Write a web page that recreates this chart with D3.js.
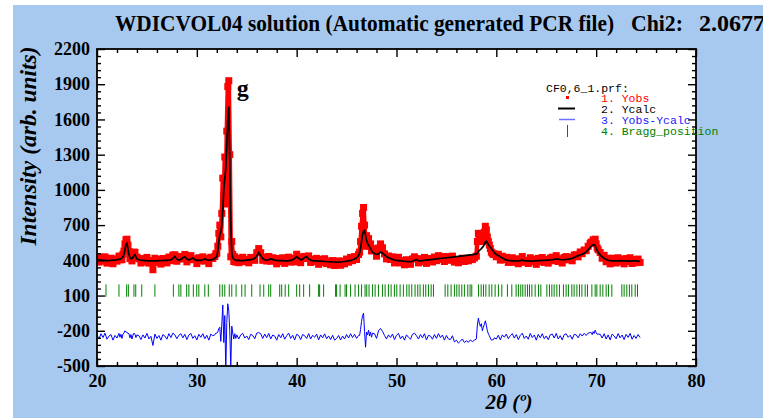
<!DOCTYPE html>
<html>
<head>
<meta charset="utf-8">
<script src="https://cdn.jsdelivr.net/npm/d3@7"></script>
<style>
  html, body { margin: 0; padding: 0; background: #fff; }
  svg { display: block; }
</style>
</head>
<body>
<svg id="chart" width="763" height="418"></svg>
<script>
// scan positions (2theta, deg) - finer steps around the peaks
var twoTheta = [
  20.0,20.2,20.4,20.6,20.8,21.0,21.2,21.4,21.6,21.8,22.0,22.2,
  22.3,22.4,22.5,22.6,22.7,22.8,22.9,23.0,23.1,23.2,23.3,23.4,23.5,23.6,23.7,23.8,23.9,24.0,
  24.2,24.4,24.6,24.8,25.0,25.2,25.4,25.6,25.8,26.0,26.2,26.4,26.6,26.8,27.0,27.2,27.4,27.6,27.8,28.0,
  28.2,28.4,28.6,28.8,29.0,29.2,29.4,29.6,29.8,30.0,30.2,30.4,30.6,30.8,31.0,31.2,31.4,31.6,31.8,
  31.9,32.0,32.1,32.2,32.3,32.4,32.5,32.6,32.7,32.8,32.9,33.0,33.1,33.2,33.3,33.4,33.5,33.6,33.7,33.8,33.9,34.0,
  34.2,34.4,34.6,34.8,35.0,35.2,35.4,35.6,35.8,36.0,36.2,36.4,36.6,36.8,37.0,37.2,37.4,37.6,37.8,38.0,
  38.2,38.4,38.6,38.8,39.0,39.2,39.4,39.6,39.8,40.0,40.2,40.4,40.6,40.8,41.0,41.2,41.4,41.6,41.8,42.0,
  42.2,42.4,42.6,42.8,43.0,43.2,43.4,43.6,43.8,44.0,44.2,44.4,44.6,44.8,45.0,45.2,45.4,45.6,45.8,46.0,46.2,
  46.3,46.4,46.5,46.6,46.7,46.8,46.9,47.0,47.1,47.2,47.3,47.4,47.5,47.6,
  47.8,48.0,48.2,48.4,48.6,48.8,49.0,49.2,49.4,49.6,49.8,50.0,50.2,50.4,50.6,50.8,51.0,51.2,51.4,51.6,51.8,
  52.0,52.2,52.4,52.6,52.8,53.0,53.2,53.4,53.6,53.8,54.0,54.2,54.4,54.6,54.8,55.0,55.2,55.4,55.6,55.8,
  56.0,56.2,56.4,56.6,56.8,57.0,57.2,57.4,57.6,57.8,58.0,
  58.1,58.2,58.3,58.4,58.5,58.6,58.7,58.8,58.9,59.0,59.1,59.2,59.3,59.4,59.5,59.6,59.7,59.8,
  60.0,60.2,60.4,60.6,60.8,61.0,61.2,61.4,61.6,61.8,62.0,62.2,62.4,62.6,62.8,63.0,63.2,63.4,63.6,63.8,
  64.0,64.2,64.4,64.6,64.8,65.0,65.2,65.4,65.6,65.8,66.0,66.2,66.4,66.6,66.8,67.0,67.2,67.4,67.6,67.8,
  68.0,68.2,68.4,68.6,68.8,69.0,69.2,69.4,
  69.5,69.6,69.7,69.8,69.9,70.0,70.1,70.2,
  70.4,70.6,70.8,71.0,71.2,71.4,71.6,71.8,72.0,72.2,72.4,72.6,72.8,73.0,73.2,73.4,73.6,73.8,74.0,74.2,74.4
];

var yObs = [
  417,385,427,392,430,376,403,418,371,412,393,436,
  405,435,405,452,480,540,575,580,530,475,415,433,395,437,470,468,422,427,
  413,377,415,386,425,376,398,320,418,381,407,368,416,404,378,428,397,445,447,392,
  414,433,412,450,387,419,440,405,413,372,422,395,430,394,417,372,426,416,433,
  455,460,520,630,700,600,800,1100,950,1280,880,1500,1880,1930,1300,430,560,450,390,430,385,415,
  380,413,426,388,408,379,425,420,400,465,500,465,400,427,394,433,392,422,407,370,
  416,388,422,374,404,427,385,417,387,452,428,380,428,433,415,438,382,410,390,417,
  366,408,382,414,372,394,362,398,356,370,395,358,393,370,411,384,425,397,432,407,450,
  470,560,690,800,850,700,520,610,560,585,520,540,480,500,
  483,435,505,540,507,455,412,437,407,430,378,412,426,378,400,362,405,384,366,412,430,
  413,378,414,388,425,374,416,411,386,428,397,440,408,432,390,432,404,401,436,385,
  402,379,398,418,390,407,396,418,406,420,435,
  560,630,600,580,610,560,600,640,690,660,600,560,530,500,470,460,450,455,
  430,452,402,435,405,426,382,406,422,383,413,371,408,432,383,401,373,422,386,409,
  366,417,388,424,382,407,376,419,427,396,440,390,414,377,424,432,404,425,396,445,
  448,430,471,457,488,482,520,545,
  555,545,575,560,580,540,505,490,
  467,418,443,388,417,370,418,401,377,422,387,410,370,415,388,422,373,406,380,411,382
];

var yCalc = [
  405,403,402,400,400,398,398,400,401,402,405,408,
  410,415,420,430,450,490,535,545,500,450,425,415,415,425,440,448,430,412,
  405,402,400,398,397,396,395,395,396,396,397,398,398,399,400,402,405,415,432,410,
  402,408,422,430,412,405,412,420,405,400,402,400,405,412,405,402,404,408,418,
  425,430,480,560,620,640,700,830,1000,1100,1180,1380,1600,1710,1250,700,470,420,410,405,400,400,
  400,398,398,400,402,404,405,410,418,435,465,440,415,405,402,405,412,408,402,400,
  398,398,397,396,396,397,400,405,415,432,418,405,410,425,430,412,402,398,396,395,
  394,393,392,390,390,388,387,386,386,385,385,386,388,390,393,396,400,405,412,422,440,
  460,500,560,620,650,655,610,570,545,530,515,500,485,470,
  458,450,455,470,462,445,432,422,415,408,403,400,398,396,394,392,390,389,388,392,400,
  405,398,396,398,400,402,404,406,408,410,412,414,416,418,420,422,424,426,428,430,
  432,434,436,438,440,442,444,446,448,450,455,
  462,472,485,492,500,510,520,535,555,562,550,535,522,512,500,488,476,465,
  450,440,430,420,410,404,400,398,396,395,395,396,398,402,398,396,395,394,394,395,
  396,397,398,399,400,401,402,403,405,408,412,410,406,405,406,408,410,413,418,425,
  433,440,446,452,460,472,490,510,
  520,528,532,533,525,505,485,468,
  447,430,418,408,402,398,396,395,395,396,397,396,395,395,394,394,395,396,395,393,390
];

var braggPos = [
  20.9,22.2,22.97,23.14,23.7,23.88,24.48,25.8,27.65,28.2,28.4,28.98,29.2,29.65,29.99,30.2,30.8,31.15,
  32.3,32.55,32.8,33.25,33.5,33.93,34.5,34.83,35.5,36.33,36.7,37.2,37.4,38.3,38.5,38.85,39.2,40.0,
  40.3,40.7,41.3,42.2,42.3,42.7,43.9,44.0,44.35,44.85,45.0,45.4,45.85,46.2,46.5,46.85,
  47.02,47.25,47.59,47.86,48.19,48.59,48.86,49.19,49.46,49.79,50.03,50.36,50.69,51.03,51.26,51.53,
  51.86,52.13,52.36,52.69,52.93,53.2,53.47,53.7,54.87,55.14,55.47,55.8,56.04,56.27,56.54,56.8,
  57.14,57.37,57.54,58.21,58.48,58.71,58.95,59.28,59.55,59.88,60.21,60.55,
  61.11,61.55,61.98,62.21,62.45,62.65,62.89,63.12,63.32,63.56,63.89,64.22,64.46,65.06,65.32,65.56,
  65.79,66.06,66.32,66.72,66.99,67.22,67.56,67.79,68.07,68.33,68.57,68.9,69.13,69.57,69.9,70.07,
  70.4,70.67,71.0,71.23,71.57,72.57,72.8,73.07,73.33,73.57,73.91,74.14
];

var diffOffset = -250;          // Yobs-Ycalc is drawn shifted down
var braggRange = [90, 195];     // height band of the Bragg ticks
var xTicks = [20, 30, 40, 50, 60, 70, 80];
var yTicks = [-500, -200, 100, 400, 700, 1000, 1300, 1600, 1900, 2200];

if (yObs.length !== twoTheta.length || yCalc.length !== twoTheta.length) {
  console.error("length mismatch", twoTheta.length, yObs.length, yCalc.length);
}

var svg = d3.select("#chart");
var pLeft = 97, pRight = 696, pTop = 49, pBottom = 366;
var serif = "'Liberation Serif', 'Times New Roman', serif";
var mono = "'Liberation Mono', 'DejaVu Sans Mono', monospace";

// page background
svg.append("rect")
  .attr("x", 13).attr("y", 5)
  .attr("width", 750).attr("height", 413)
  .attr("fill", "#a8c9ef");

svg.append("rect")
  .attr("x", pLeft).attr("y", pTop)
  .attr("width", pRight - pLeft).attr("height", pBottom - pTop)
  .attr("fill", "#fff");

var x = d3.scaleLinear().domain([20, 80]).range([pLeft, pRight]);
var y = d3.scaleLinear().domain([-500, 2200]).range([pBottom, pTop]);

svg.append("clipPath").attr("id", "clip")
  .append("rect")
  .attr("x", pLeft).attr("y", pTop)
  .attr("width", pRight - pLeft).attr("height", pBottom - pTop);

var plot = svg.append("g").attr("clip-path", "url(#clip)");
var idx = d3.range(twoTheta.length);

// Bragg positions
plot.selectAll(".bragg")
  .data(braggPos)
  .enter()
  .append("line")
  .attr("class", "bragg")
  .attr("x1", d => x(d)).attr("x2", d => x(d))
  .attr("y1", y(braggRange[1])).attr("y2", y(braggRange[0]))
  .attr("stroke", "#008000")
  .attr("stroke-width", 1);

// Yobs: dense scan, drawn as a ragged red band of points
var obsLine = d3.line()
  .x(i => x(twoTheta[i]))
  .y(i => y(yObs[i]));

plot.append("path")
  .datum(idx)
  .attr("d", obsLine)
  .attr("fill", "none")
  .attr("stroke", "#ff0000")
  .attr("stroke-width", 4.5)
  .attr("stroke-linejoin", "round");

plot.selectAll(".obs")
  .data(idx)
  .enter()
  .append("rect")
  .attr("class", "obs")
  .attr("x", i => x(twoTheta[i]) - 3.5)
  .attr("y", i => y(yObs[i]) - 3.5)
  .attr("width", 7).attr("height", 7)
  .attr("fill", "#ff0000");

// Ycalc
var calcLine = d3.line()
  .x(i => x(twoTheta[i]))
  .y(i => y(yCalc[i]));

plot.append("path")
  .datum(idx)
  .attr("d", calcLine)
  .attr("fill", "none")
  .attr("stroke", "#000")
  .attr("stroke-width", 1.7);

// Yobs-Ycalc
var diffLine = d3.line()
  .x(i => x(twoTheta[i]))
  .y(i => y(yObs[i] - yCalc[i] + diffOffset));

plot.append("path")
  .datum(idx)
  .attr("d", diffLine)
  .attr("fill", "none")
  .attr("stroke", "#0000ff")
  .attr("stroke-width", 1);

// axes, ticks pointing inwards on all four sides
function styleAxis(g, size) {
  g.select(".domain").remove();
  g.selectAll("line").attr("stroke", "#000").attr("stroke-width", 1.4);
  g.selectAll("text")
    .attr("fill", "#000")
    .style("font-family", serif)
    .style("font-weight", "bold")
    .style("font-size", size + "px");
}

var plain = d => String(d);     // keep the ASCII hyphen of the original
var xMinor = d3.range(20, 81, 2).filter(d => d % 10 !== 0);
var yMinor = d3.range(-500, 2201, 60).filter(d => (d + 500) % 300 !== 0);

svg.append("g")
  .attr("transform", "translate(0," + pBottom + ")")
  .call(d3.axisBottom(x).tickValues(xTicks).tickSize(-8).tickPadding(8).tickFormat(plain))
  .call(g => styleAxis(g, 18));
svg.append("g")
  .attr("transform", "translate(0," + pBottom + ")")
  .call(d3.axisBottom(x).tickValues(xMinor).tickSize(-4).tickFormat(""))
  .call(g => styleAxis(g, 18));
svg.append("g")
  .attr("transform", "translate(0," + pTop + ")")
  .call(d3.axisTop(x).tickValues(xTicks).tickSize(-8).tickFormat(""))
  .call(g => styleAxis(g, 18));
svg.append("g")
  .attr("transform", "translate(0," + pTop + ")")
  .call(d3.axisTop(x).tickValues(xMinor).tickSize(-4).tickFormat(""))
  .call(g => styleAxis(g, 18));

svg.append("g")
  .attr("transform", "translate(" + pLeft + ",0)")
  .call(d3.axisLeft(y).tickValues(yTicks).tickSize(-8).tickPadding(7).tickFormat(plain))
  .call(g => styleAxis(g, 18));
svg.append("g")
  .attr("transform", "translate(" + pLeft + ",0)")
  .call(d3.axisLeft(y).tickValues(yMinor).tickSize(-4).tickFormat(""))
  .call(g => styleAxis(g, 18));
svg.append("g")
  .attr("transform", "translate(" + pRight + ",0)")
  .call(d3.axisRight(y).tickValues(yTicks).tickSize(-8).tickFormat(""))
  .call(g => styleAxis(g, 18));
svg.append("g")
  .attr("transform", "translate(" + pRight + ",0)")
  .call(d3.axisRight(y).tickValues(yMinor).tickSize(-4).tickFormat(""))
  .call(g => styleAxis(g, 18));

// frame
svg.append("rect")
  .attr("x", pLeft).attr("y", pTop)
  .attr("width", pRight - pLeft).attr("height", pBottom - pTop)
  .attr("fill", "none")
  .attr("stroke", "#000")
  .attr("stroke-width", 1.8);

// title
var title = svg.append("g")
  .style("font-family", serif)
  .style("font-weight", "bold")
  .style("font-size", "24px");
title.append("text")
  .attr("x", 115).attr("y", 31)
  .attr("textLength", 499).attr("lengthAdjust", "spacingAndGlyphs")
  .text("WDICVOL04 solution (Automatic generated PCR file)");
title.append("text")
  .attr("x", 631).attr("y", 31)
  .attr("textLength", 52).attr("lengthAdjust", "spacingAndGlyphs")
  .text("Chi2:");
title.append("text")
  .attr("x", 699).attr("y", 31)
  .attr("textLength", 66).attr("lengthAdjust", "spacingAndGlyphs")
  .text("2.0677");

// axis titles
svg.append("text")
  .attr("transform", "translate(28,146) rotate(-90)")
  .attr("text-anchor", "middle")
  .attr("dominant-baseline", "central")
  .style("font-family", serif)
  .style("font-weight", "bold")
  .style("font-style", "italic")
  .style("font-size", "23.5px")
  .text("Intensity (arb. units)");

svg.append("text")
  .attr("x", 509).attr("y", 409)
  .attr("text-anchor", "middle")
  .style("font-family", serif)
  .style("font-weight", "bold")
  .style("font-style", "italic")
  .style("font-size", "21px")
  .text("2θ (º)");

// peak label
svg.append("text")
  .attr("x", x(34.0)).attr("y", y(1800))
  .style("font-family", serif)
  .style("font-weight", "bold")
  .style("font-size", "24px")
  .text("g");

// legend
var legend = svg.append("g")
  .style("font-family", mono)
  .style("font-size", "11.5px");
legend.append("text").attr("x", 546).attr("y", 92).attr("fill", "#000").text("CF0,6_1.prf:");

var items = [
  { label: "1. Yobs", color: "#ff0000" },
  { label: "2. Ycalc", color: "#000000" },
  { label: "3. Yobs-Ycalc", color: "#2020ff" },
  { label: "4. Bragg_position", color: "#008000" }
];
legend.selectAll(".item")
  .data(items)
  .enter()
  .append("text")
  .attr("class", "item")
  .attr("x", 601)
  .attr("y", (d, i) => 102 + i * 11)
  .attr("fill", d => d.color)
  .text(d => d.label);

legend.append("rect").attr("x", 566).attr("y", 96).attr("width", 3).attr("height", 3).attr("fill", "#ff0000");
legend.append("line").attr("x1", 558).attr("x2", 575).attr("y1", 108.5).attr("y2", 108.5)
  .attr("stroke", "#000").attr("stroke-width", 2);
legend.append("line").attr("x1", 559).attr("x2", 575).attr("y1", 119.5).attr("y2", 119.5)
  .attr("stroke", "#7070ff").attr("stroke-width", 1.5);
legend.append("line").attr("x1", 567.5).attr("x2", 567.5).attr("y1", 125).attr("y2", 137)
  .attr("stroke", "#008000").attr("stroke-width", 1);
</script>
</body>
</html>
